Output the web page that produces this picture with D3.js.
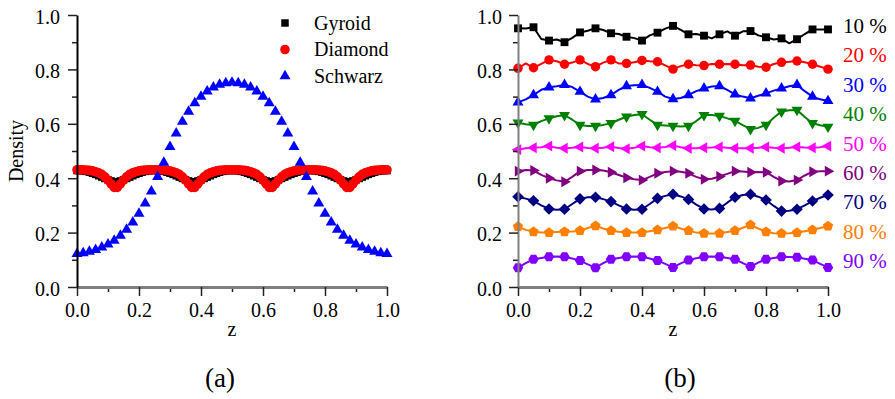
<!DOCTYPE html>
<html>
<head>
<meta charset="utf-8">
<script src="https://cdn.jsdelivr.net/npm/d3@7"></script>
<style>
  body { margin: 0; background: #fff; }
  svg text { font-family: "Liberation Serif", "Times New Roman", Times, "DejaVu Serif", serif; }
</style>
</head>
<body>
<svg id="chart" width="895" height="399"></svg>
<script>
// ---- panel (a) data ----
var legendNames = ['Gyroid', 'Diamond', 'Schwarz'];

var gyroidDensity = [
  0.428,0.428,0.427,0.425,0.422,0.418,0.414,0.409,0.404,0.399,0.394,0.390,0.387,
  0.387,0.390,0.394,0.399,0.404,0.409,0.414,0.418,0.422,0.425,0.427,0.428,0.428,
  0.428,0.427,0.425,0.422,0.418,0.414,0.409,0.404,0.399,0.394,0.390,0.387,
  0.387,0.390,0.394,0.399,0.404,0.409,0.414,0.418,0.422,0.425,0.427,0.428,0.428,
  0.428,0.427,0.425,0.422,0.418,0.414,0.409,0.404,0.399,0.394,0.390,0.387,
  0.387,0.390,0.394,0.399,0.404,0.409,0.414,0.418,0.422,0.425,0.427,0.428,0.428,
  0.428,0.427,0.425,0.422,0.418,0.414,0.409,0.404,0.399,0.394,0.390,0.387,
  0.387,0.390,0.394,0.399,0.404,0.409,0.414,0.418,0.422,0.425,0.427,0.428,0.428
];

var diamondDensity = [
  0.431,0.431,0.431,0.430,0.429,0.427,0.424,0.420,0.414,0.405,0.393,0.379,0.366,
  0.366,0.379,0.393,0.405,0.414,0.420,0.424,0.427,0.429,0.430,0.431,0.431,0.431,
  0.431,0.431,0.430,0.429,0.427,0.424,0.420,0.414,0.405,0.393,0.379,0.366,
  0.366,0.379,0.393,0.405,0.414,0.420,0.424,0.427,0.429,0.430,0.431,0.431,0.431,
  0.431,0.431,0.430,0.429,0.427,0.424,0.420,0.414,0.405,0.393,0.379,0.366,
  0.366,0.379,0.393,0.405,0.414,0.420,0.424,0.427,0.429,0.430,0.431,0.431,0.431,
  0.431,0.431,0.430,0.429,0.427,0.424,0.420,0.414,0.405,0.393,0.379,0.366,
  0.366,0.379,0.393,0.405,0.414,0.420,0.424,0.427,0.429,0.430,0.431,0.431,0.431
];

var schwarzDensity = [
  0.122,0.125,0.130,0.137,0.146,0.157,0.171,0.189,0.211,0.238,0.270,0.308,0.352,
  0.405,0.457,0.515,0.565,0.608,0.645,0.676,0.700,0.719,0.734,0.744,0.750,0.752,
  0.750,0.744,0.734,0.719,0.700,0.676,0.645,0.608,0.565,0.515,0.457,0.405,
  0.352,0.308,0.270,0.238,0.211,0.189,0.171,0.157,0.146,0.137,0.130,0.125,0.122
];

// ---- panel (b) data: markers every 0.05, line also passes mid points ----
var percentLabels = ['10 %', '20 %', '30 %', '40 %', '50 %', '60 %', '70 %', '80 %', '90 %'];

var marks10 = [0.951,0.955,0.906,0.900,0.936,0.951,0.933,0.920,0.906,0.935,0.960,0.929,0.924,0.929,0.924,0.941,0.918,0.914,0.911,0.947,0.947];
var mids10  = [0.950,0.912,0.910,0.916,0.942,0.945,0.930,0.915,0.925,0.950,0.945,0.930,0.914,0.940,0.940,0.925,0.910,0.896,0.930,0.947];
var marks20 = [0.804,0.806,0.835,0.819,0.835,0.810,0.835,0.822,0.833,0.828,0.801,0.819,0.814,0.819,0.819,0.816,0.808,0.826,0.831,0.819,0.801];
var mids20  = [0.822,0.820,0.830,0.825,0.820,0.825,0.822,0.826,0.830,0.815,0.812,0.815,0.820,0.820,0.815,0.810,0.820,0.828,0.826,0.810];
var marks30 = [0.679,0.706,0.734,0.743,0.718,0.690,0.706,0.739,0.743,0.718,0.691,0.706,0.730,0.739,0.708,0.694,0.712,0.730,0.743,0.700,0.684];
var mids30  = [0.690,0.725,0.738,0.735,0.700,0.695,0.725,0.742,0.732,0.700,0.695,0.720,0.737,0.725,0.700,0.703,0.722,0.738,0.720,0.690];
var marks40 = [0.604,0.596,0.620,0.632,0.596,0.592,0.602,0.626,0.635,0.596,0.592,0.592,0.632,0.629,0.611,0.580,0.596,0.645,0.651,0.602,0.589];
var mids40  = [0.598,0.610,0.628,0.615,0.592,0.596,0.615,0.632,0.615,0.594,0.590,0.610,0.632,0.620,0.595,0.585,0.622,0.650,0.625,0.595];
var marks50 = [0.505,0.512,0.518,0.510,0.515,0.510,0.516,0.508,0.518,0.512,0.520,0.510,0.512,0.515,0.510,0.510,0.515,0.510,0.515,0.512,0.518];
var mids50  = [0.510,0.514,0.512,0.512,0.511,0.512,0.511,0.512,0.514,0.515,0.514,0.510,0.513,0.512,0.510,0.512,0.512,0.512,0.513,0.514];
var marks60 = [0.426,0.428,0.400,0.387,0.426,0.430,0.422,0.402,0.393,0.418,0.426,0.418,0.396,0.406,0.426,0.422,0.422,0.390,0.393,0.424,0.426];
var mids60  = [0.430,0.412,0.392,0.405,0.430,0.428,0.412,0.396,0.405,0.423,0.424,0.405,0.398,0.416,0.425,0.423,0.405,0.388,0.410,0.426];
var marks70 = [0.332,0.317,0.287,0.286,0.324,0.330,0.314,0.287,0.286,0.326,0.341,0.322,0.287,0.289,0.330,0.341,0.320,0.279,0.286,0.316,0.338];
var mids70  = [0.325,0.300,0.284,0.305,0.330,0.323,0.300,0.284,0.305,0.335,0.333,0.303,0.285,0.310,0.338,0.332,0.298,0.280,0.300,0.328];
var marks80 = [0.222,0.203,0.200,0.203,0.207,0.225,0.207,0.200,0.200,0.210,0.224,0.207,0.197,0.197,0.207,0.228,0.203,0.197,0.200,0.210,0.224];
var mids80  = [0.210,0.200,0.202,0.204,0.217,0.215,0.203,0.200,0.205,0.217,0.215,0.200,0.197,0.202,0.218,0.215,0.198,0.198,0.205,0.217];
var marks90 = [0.071,0.102,0.111,0.111,0.097,0.071,0.102,0.111,0.111,0.097,0.072,0.099,0.111,0.111,0.102,0.075,0.102,0.111,0.109,0.099,0.072];
var mids90  = [0.088,0.107,0.112,0.105,0.083,0.088,0.107,0.112,0.105,0.085,0.087,0.106,0.112,0.107,0.088,0.090,0.107,0.110,0.104,0.085];

var seriesMarks = [marks10, marks20, marks30, marks40, marks50, marks60, marks70, marks80, marks90];
var seriesMids = [mids10, mids20, mids30, mids40, mids50, mids60, mids70, mids80, mids90];

var xTicks = [0, 0.2, 0.4, 0.6, 0.8, 1.0];
var yTicks = [0, 0.2, 0.4, 0.6, 0.8, 1.0];
var minorTicks = [0.1, 0.3, 0.5, 0.7, 0.9];

// ---- styles ----
var leftColors = ['#000000', '#ff0000', '#0000ff'];
var rightColors = ['#000000', '#ff0000', '#0000ff', '#008000', '#ff00ff', '#800080', '#000080', '#ff8000', '#8000ff'];

var svg = d3.select('#chart');
svg.append('rect').attr('width', 895).attr('height', 399).attr('fill', '#fff');

function polygon(n, r, rot) {
  var pts = [];
  for (var i = 0; i < n; i++) {
    var a = rot + i * 2 * Math.PI / n;
    pts.push([r * Math.sin(a), -r * Math.cos(a)]);
  }
  return 'M' + pts.map(function(p) { return p[0].toFixed(2) + ',' + p[1].toFixed(2); }).join('L') + 'Z';
}

var square = d3.symbol().type(d3.symbolSquare).size(56)();
var circle = d3.symbol().type(d3.symbolCircle).size(72)();
var triangle = d3.symbol().type(d3.symbolTriangle).size(52)();

// marker shape + rotation for each right-hand series
var rightShapes = [
  { d: d3.symbol().type(d3.symbolSquare).size(62)(), rot: 0 },
  { d: d3.symbol().type(d3.symbolCircle).size(70)(), rot: 0 },
  { d: d3.symbol().type(d3.symbolTriangle).size(52)(), rot: 0 },
  { d: d3.symbol().type(d3.symbolTriangle).size(52)(), rot: 180 },
  { d: d3.symbol().type(d3.symbolTriangle).size(52)(), rot: -90 },
  { d: d3.symbol().type(d3.symbolTriangle).size(52)(), rot: 90 },
  { d: polygon(4, 5.8, 0), rot: 0 },
  { d: polygon(5, 5.4, 0), rot: 0 },
  { d: polygon(6, 5.2, Math.PI / 6), rot: 0 }
];

function drawAxes(g, x, y, yAxisColor, xAxisColor, yLabelPad) {
  var tickColor = '#222';
  // minor ticks
  g.append('g').attr('transform', 'translate(0,' + y(0) + ')')
    .call(d3.axisBottom(x).tickValues(minorTicks).tickSize(5).tickFormat(''))
    .call(function(s) { s.select('.domain').remove(); s.selectAll('line').attr('stroke', tickColor).attr('stroke-width', 1.5); });
  g.append('g').attr('transform', 'translate(' + x(0) + ',0)')
    .call(d3.axisLeft(y).tickValues(minorTicks).tickSize(5).tickFormat(''))
    .call(function(s) { s.select('.domain').remove(); s.selectAll('line').attr('stroke', tickColor).attr('stroke-width', 1.5); });

  var gx = g.append('g').attr('transform', 'translate(0,' + y(0) + ')')
    .call(d3.axisBottom(x).tickValues(xTicks).tickSize(9).tickSizeOuter(0).tickPadding(7).tickFormat(d3.format('.1f')));
  gx.select('.domain').attr('stroke', xAxisColor).attr('stroke-width', 3);
  gx.selectAll('line').attr('stroke', tickColor).attr('stroke-width', 1.5);
  gx.selectAll('text').attr('font-size', 20).attr('fill', '#000');

  var gy = g.append('g').attr('transform', 'translate(' + x(0) + ',0)')
    .call(d3.axisLeft(y).tickValues(yTicks).tickSize(9).tickSizeOuter(0).tickPadding(yLabelPad).tickFormat(d3.format('.1f')));
  gy.select('.domain').attr('stroke', yAxisColor).attr('stroke-width', 2);
  gy.selectAll('line').attr('stroke', tickColor).attr('stroke-width', 1.5);
  gy.selectAll('text').attr('font-size', 20).attr('fill', '#000').attr('dy', '0.4em');
}

// ---------- panel (a) ----------
var xa = d3.scaleLinear().domain([0, 1]).range([77, 387]);
var ya = d3.scaleLinear().domain([0, 1]).range([287, 15]);
var ga = svg.append('g');

var zFine = d3.range(gyroidDensity.length).map(function(i) { return i / (gyroidDensity.length - 1); });
var zCoarse = d3.range(schwarzDensity.length).map(function(i) { return i / (schwarzDensity.length - 1); });

var leftSeries = [
  { z: zFine, v: gyroidDensity, shape: square },
  { z: zFine, v: diamondDensity, shape: circle },
  { z: zCoarse, v: schwarzDensity, shape: triangle }
];

leftSeries.forEach(function(s, k) {
  ga.append('g').selectAll('path')
    .data(s.v)
    .enter().append('path')
    .attr('d', s.shape)
    .attr('fill', leftColors[k])
    .attr('transform', function(d, i) { return 'translate(' + xa(s.z[i]) + ',' + ya(d) + ')'; });
});

drawAxes(ga, xa, ya, '#000', '#808080', 8);

// legend
var legend = ga.append('g');
legendNames.forEach(function(name, k) {
  var ly = 23 + k * 26.5;
  legend.append('path').attr('d', leftSeries[k].shape).attr('fill', leftColors[k])
    .attr('transform', 'translate(285,' + ly + ')');
  legend.append('text').attr('x', 314).attr('y', ly + 6.5).attr('font-size', 20).text(name);
});

ga.append('text').attr('transform', 'translate(23,151) rotate(-90)')
  .attr('text-anchor', 'middle').attr('font-size', 20).text('Density');
ga.append('text').attr('x', xa(0.5)).attr('y', 336).attr('text-anchor', 'middle').attr('font-size', 20).text('z');
ga.append('text').attr('x', 220).attr('y', 387).attr('text-anchor', 'middle').attr('font-size', 27).text('(a)');

// ---------- panel (b) ----------
var xb = d3.scaleLinear().domain([0, 1]).range([518, 828]);
var yb = d3.scaleLinear().domain([0, 1]).range([287, 15]);
var gb = svg.append('g');

var line = d3.line()
  .x(function(d) { return xb(d[0]); })
  .y(function(d) { return yb(d[1]); });

seriesMarks.forEach(function(marks, k) {
  var mids = seriesMids[k];
  var n = marks.length - 1;
  var pts = [];
  marks.forEach(function(v, i) {
    pts.push([i / n, v]);
    if (i < mids.length) pts.push([(i + 0.5) / n, mids[i]]);
  });
  var g = gb.append('g');
  g.append('path').attr('d', line(pts)).attr('fill', 'none')
    .attr('stroke', rightColors[k]).attr('stroke-width', 2).attr('stroke-linejoin', 'round');
  g.selectAll('path.mk')
    .data(marks)
    .enter().append('path')
    .attr('class', 'mk')
    .attr('d', rightShapes[k].d)
    .attr('fill', rightColors[k])
    .attr('transform', function(d, i) {
      return 'translate(' + xb(i / n) + ',' + yb(d) + ') rotate(' + rightShapes[k].rot + ')';
    });
});

drawAxes(gb, xb, yb, '#808080', '#808080', 7);

percentLabels.forEach(function(lab, k) {
  gb.append('text').attr('x', 843).attr('y', 33 + k * 29.4)
    .attr('font-size', 21).attr('fill', rightColors[k]).text(lab);
});

gb.append('text').attr('x', xb(0.5)).attr('y', 336).attr('text-anchor', 'middle').attr('font-size', 20).text('z');
gb.append('text').attr('x', 680).attr('y', 387).attr('text-anchor', 'middle').attr('font-size', 27).text('(b)');
</script>
</body>
</html>
